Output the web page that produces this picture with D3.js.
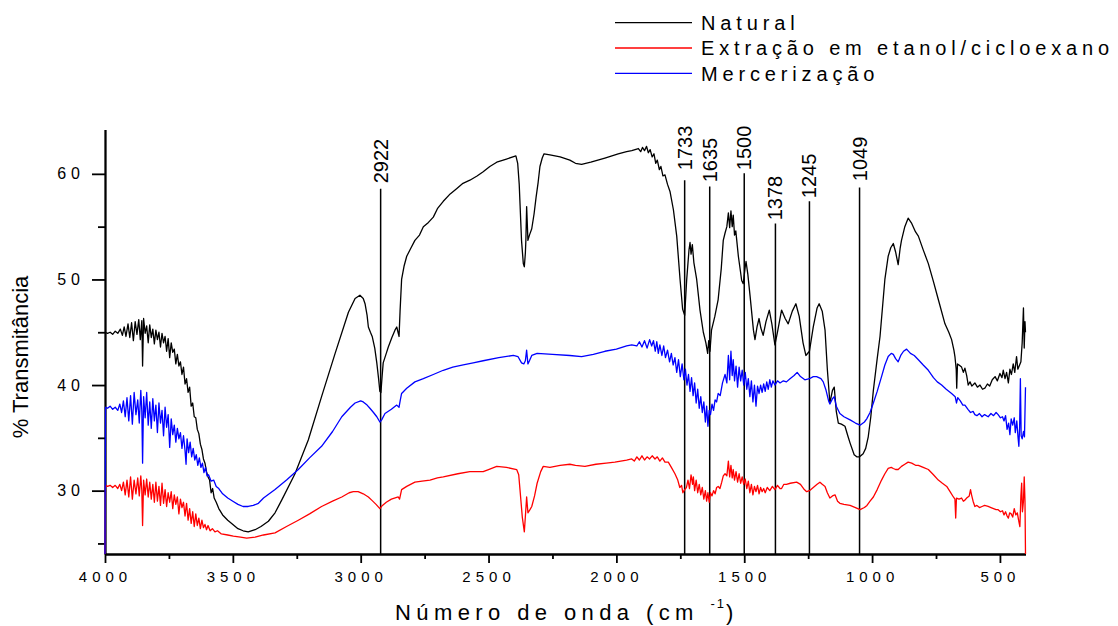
<!DOCTYPE html>
<html>
<head>
<meta charset="utf-8">
<script src="https://cdn.jsdelivr.net/npm/d3@7"></script>
<style>
  body { margin: 0; background: #fff; }
  svg { display: block; font-family: "Liberation Sans", Arial, sans-serif; }
</style>
</head>
<body>
<svg id="chart" width="1118" height="626"></svg>
<script>
// ---- data (wavenumber cm-1, % transmittance) ----
const natural = [
  [4000,45.0],[3990,44.9],[3980,45.0],[3970,44.8],[3960,45.1],[3950,44.9],[3940,45.3],[3932,44.7],[3925,45.5],[3918,44.6],
  [3910,45.8],[3903,44.5],[3896,45.9],[3889,44.2],[3882,46.0],[3875,44.8],[3868,46.2],[3862,44.3],[3856,46.1],[3853,41.8],
  [3849,46.3],[3843,44.9],[3837,45.6],[3831,44.0],[3825,45.7],[3819,44.5],[3813,45.3],[3807,43.9],[3801,45.2],[3795,44.3],
  [3789,45.0],[3783,43.6],[3777,44.9],[3771,44.0],[3765,44.6],[3759,43.2],[3753,44.4],[3747,42.6],[3741,44.0],[3735,43.1],
  [3729,43.4],[3723,42.0],[3717,42.9],[3711,41.8],[3705,42.2],[3699,41.0],[3693,41.7],[3687,40.1],[3681,40.6],[3675,39.3],
  [3669,39.8],[3663,38.0],[3657,38.3],[3651,37.0],[3645,36.9],[3639,35.8],[3633,35.4],[3627,34.4],[3621,33.9],[3615,33.0],
  [3609,32.6],[3603,31.8],[3597,31.3],[3591,31.0],[3585,29.8],[3579,30.2],[3573,29.3],[3565,28.9],[3555,28.3],[3540,27.7],
  [3520,27.2],[3500,26.8],[3480,26.4],[3460,26.2],[3440,26.1],[3413,26.3],[3390,26.6],[3361,27.1],[3335,27.9],[3309,29.1],
  [3257,31.6],[3205,34.8],[3153,38.9],[3100,43.0],[3048,46.9],[3022,48.2],[3003,48.5],[2990,48.2],[2983,47.7],[2975,46.6],
  [2970,45.5],[2962,45.0],[2955,44.6],[2945,43.5],[2937,42.1],[2930,40.6],[2925,39.4],[2921,39.3],[2916,40.9],[2912,42.1],
  [2900,43.0],[2892,43.6],[2878,44.5],[2866,45.2],[2859,45.5],[2854,45.0],[2850,44.6],[2846,47.0],[2840,50.0],[2830,51.3],
  [2820,52.2],[2805,52.9],[2788,53.7],[2770,54.2],[2755,55.0],[2735,55.4],[2716,55.9],[2700,56.7],[2677,57.4],[2650,58.1],
  [2625,58.6],[2600,59.1],[2573,59.4],[2545,59.8],[2521,60.2],[2495,60.7],[2468,61.1],[2430,61.4],[2393,61.7],[2386,61.0],
  [2380,59.0],[2371,53.7],[2364,51.5],[2360,51.2],[2356,52.5],[2354,53.7],[2351,56.9],[2348,55.0],[2346,53.7],[2340,54.2],
  [2331,54.8],[2322,56.2],[2314,57.8],[2306,59.2],[2299,60.7],[2290,61.5],[2283,61.9],[2260,61.8],[2220,61.6],[2182,61.3],
  [2160,61.0],[2136,60.9],[2100,61.1],[2045,61.5],[1993,61.9],[1960,62.1],[1940,62.2],[1914,62.4],[1905,62.1],[1898,62.5],
  [1890,62.2],[1882,62.6],[1875,62.0],[1868,62.3],[1860,61.6],[1853,61.9],[1846,61.0],[1840,61.3],[1832,60.4],[1826,60.7],
  [1818,59.8],[1810,59.9],[1800,59.0],[1790,58.3],[1777,56.6],[1764,54.1],[1751,50.0],[1741,47.2],[1733,46.6],[1725,50.0],
  [1716,52.8],[1712,53.5],[1708,52.4],[1703,53.3],[1697,51.6],[1686,50.0],[1673,47.1],[1660,45.0],[1650,44.0],[1643,43.0],
  [1639,44.2],[1634,43.2],[1628,45.2],[1615,46.5],[1602,48.1],[1590,51.0],[1582,53.7],[1575,54.4],[1568,55.0],[1562,56.3],
  [1557,54.9],[1552,56.5],[1547,55.0],[1543,56.1],[1538,54.2],[1533,54.6],[1523,52.2],[1515,50.8],[1510,49.9],[1504,49.6],
  [1496,51.2],[1493,51.7],[1486,50.5],[1477,48.4],[1464,45.2],[1458,44.3],[1450,45.5],[1442,46.3],[1435,45.4],[1426,44.7],
  [1415,46.0],[1402,47.1],[1392,45.8],[1380,43.8],[1370,45.0],[1354,47.1],[1340,46.3],[1328,45.8],[1312,47.0],[1298,47.7],
  [1285,46.5],[1270,44.0],[1259,42.8],[1245,43.2],[1230,45.5],[1215,47.3],[1207,47.7],[1195,47.0],[1184,45.2],[1175,41.5],
  [1165,38.3],[1155,39.5],[1148,39.8],[1140,37.5],[1132,36.4],[1120,36.3],[1106,36.1],[1095,35.2],[1086,34.5],[1070,33.4],
  [1060,33.2],[1049,33.2],[1035,33.5],[1025,34.0],[1015,35.1],[1005,37.0],[995,39.5],[980,42.5],[969,44.6],[950,50.0],
  [937,52.2],[927,53.0],[917,53.4],[908,52.6],[898,51.4],[890,53.0],[885,53.7],[872,55.0],[859,55.8],[845,55.3],
  [830,54.5],[819,54.1],[800,52.8],[780,51.5],[760,49.8],[741,48.1],[715,45.8],[700,45.0],[689,44.3],[680,43.3],
  [676,42.7],[671,41.5],[669,39.7],[666,42.0],[660,41.9],[650,41.7],[643,41.2],[637,41.6],[630,40.9],[624,40.0],
  [617,40.3],[610,39.9],[598,40.2],[588,39.8],[578,40.0],[568,39.6],[559,39.7],[549,40.1],[540,39.9],[530,40.5],
  [519,40.8],[510,40.4],[500,41.1],[492,40.7],[487,41.4],[480,40.6],[474,41.2],[467,40.2],[461,41.5],[455,41.0],
  [448,42.0],[442,41.2],[435,42.7],[430,41.5],[423,41.9],[418,42.2],[413,44.0],[408,47.3],[405,43.5],[402,46.0],[400,45.0]
];

const extracao = [
  [4000,24.0],[3998,30.5],[3990,30.4],[3980,30.5],[3970,30.3],[3960,30.5],[3950,30.2],[3942,30.6],[3935,30.0],[3928,30.8],
  [3921,29.6],[3914,31.0],[3907,29.4],[3900,31.3],[3893,29.2],[3886,31.0],[3879,29.7],[3872,31.2],[3866,29.5],[3860,31.4],
  [3856,30.0],[3853,26.7],[3849,31.0],[3843,29.6],[3837,31.1],[3831,29.4],[3825,30.8],[3819,29.2],[3813,30.6],[3807,28.9],
  [3801,30.8],[3795,29.0],[3789,30.4],[3783,28.6],[3777,30.7],[3771,28.8],[3765,30.1],[3759,28.5],[3753,29.8],[3747,28.9],
  [3741,29.9],[3735,28.3],[3729,29.6],[3723,28.7],[3717,29.4],[3711,27.8],[3705,29.2],[3699,28.4],[3693,28.9],[3687,27.6],
  [3681,28.8],[3675,27.2],[3669,28.3],[3663,26.9],[3657,28.0],[3651,26.6],[3645,27.8],[3639,26.7],[3633,27.4],[3627,26.4],
  [3621,27.2],[3615,26.5],[3609,26.8],[3603,26.3],[3597,26.7],[3589,26.2],[3580,26.4],[3570,26.1],[3560,26.2],[3545,25.9],
  [3520,25.8],[3498,25.7],[3470,25.6],[3446,25.5],[3413,25.6],[3380,25.8],[3335,26.0],[3290,26.6],[3244,27.2],[3200,27.8],
  [3153,28.5],[3110,29.0],[3074,29.4],[3045,29.8],[3029,29.9],[3010,29.9],[2990,29.7],[2970,29.4],[2957,29.1],[2940,28.7],
  [2925,28.3],[2915,28.6],[2900,28.9],[2880,29.2],[2853,29.4],[2848,29.2],[2840,30.1],[2820,30.4],[2788,30.8],[2760,30.9],
  [2729,31.0],[2700,31.2],[2677,31.3],[2620,31.6],[2573,31.8],[2521,31.8],[2500,32.0],[2468,32.3],[2430,32.2],[2390,32.0],
  [2382,31.5],[2377,30.1],[2368,27.5],[2360,26.1],[2355,27.9],[2351,29.4],[2346,27.9],[2338,28.2],[2331,28.5],[2320,29.5],
  [2310,30.7],[2296,31.8],[2286,32.3],[2260,32.2],[2220,32.4],[2182,32.5],[2160,32.4],[2123,32.3],[2080,32.5],[2040,32.6],
  [2006,32.7],[1960,32.9],[1940,33.0],[1930,32.8],[1920,33.2],[1910,32.9],[1900,33.3],[1890,32.9],[1880,33.2],[1870,33.0],
  [1860,33.3],[1849,33.0],[1840,33.2],[1830,32.8],[1820,33.1],[1810,32.7],[1797,32.7],[1785,32.2],[1771,31.6],[1760,31.0],
  [1752,30.3],[1745,30.5],[1740,29.8],[1733,30.1],[1726,30.3],[1720,31.0],[1714,30.2],[1708,31.5],[1702,30.6],[1699,31.3],
  [1694,30.0],[1688,31.0],[1682,29.8],[1676,30.6],[1670,29.6],[1664,30.3],[1658,29.2],[1652,30.0],[1647,29.0],[1642,29.8],
  [1637,28.9],[1632,29.8],[1626,29.5],[1620,30.0],[1614,29.7],[1608,30.3],[1602,30.4],[1595,30.2],[1588,30.8],[1582,31.4],
  [1575,31.6],[1568,31.4],[1562,32.8],[1557,31.3],[1552,32.4],[1547,31.2],[1543,32.0],[1538,31.0],[1532,31.8],[1526,30.8],
  [1520,31.6],[1514,30.7],[1508,31.3],[1502,30.6],[1496,31.1],[1490,30.2],[1484,30.9],[1478,29.8],[1472,30.6],[1466,29.6],
  [1460,30.4],[1454,29.9],[1448,30.5],[1442,29.7],[1436,30.3],[1430,29.9],[1424,30.2],[1418,29.8],[1410,30.3],[1400,30.0],
  [1390,30.4],[1380,30.1],[1370,30.5],[1360,30.2],[1354,30.2],[1345,30.6],[1335,30.6],[1320,30.7],[1295,30.8],[1280,30.6],
  [1265,30.1],[1256,29.9],[1245,30.0],[1230,30.3],[1215,30.6],[1204,30.8],[1195,30.6],[1184,30.4],[1175,29.8],[1165,29.3],
  [1155,29.5],[1145,29.6],[1135,29.0],[1126,28.8],[1110,28.7],[1086,28.6],[1065,28.4],[1047,28.2],[1030,28.4],[1020,28.6],
  [1008,29.0],[995,29.4],[980,30.1],[963,31.0],[950,31.6],[937,32.1],[925,32.2],[917,32.1],[908,32.0],[898,32.0],
  [885,32.3],[872,32.5],[859,32.7],[845,32.6],[830,32.4],[819,32.4],[800,32.2],[780,32.0],[760,31.5],[741,31.0],
  [725,30.7],[708,30.4],[695,29.9],[682,29.4],[676,29.2],[673,27.4],[670,29.3],[660,29.2],[650,29.3],[643,29.0],
  [637,29.1],[630,29.3],[620,29.5],[615,30.1],[611,29.6],[605,29.0],[598,28.5],[590,28.6],[580,28.4],[570,28.5],
  [560,28.6],[546,28.5],[535,28.4],[525,28.3],[515,28.2],[507,28.2],[498,28.0],[490,28.1],[484,27.7],[478,28.0],
  [472,27.6],[467,27.4],[462,27.9],[456,27.8],[450,27.5],[444,28.3],[438,27.7],[432,27.9],[427,27.2],[422,26.6],
  [418,29.5],[415,30.7],[412,28.0],[408,29.0],[405,31.3],[402,29.0],[400,24.0]
];

const mercerizacao = [
  [4000,24.0],[3998,37.9],[3990,37.8],[3980,38.0],[3970,37.7],[3960,37.9],[3950,37.6],[3942,38.2],[3935,37.4],[3928,38.5],
  [3921,37.0],[3914,38.8],[3907,36.6],[3900,39.0],[3893,36.3],[3886,39.3],[3879,37.2],[3872,38.6],[3866,36.4],[3860,39.5],
  [3856,37.5],[3853,32.6],[3849,38.9],[3843,36.9],[3837,39.3],[3831,36.2],[3825,38.4],[3819,35.9],[3813,38.7],[3807,36.6],
  [3801,38.1],[3795,35.5],[3789,38.3],[3783,36.4],[3777,37.6],[3771,35.2],[3765,37.9],[3759,36.0],[3753,37.2],[3747,34.1],
  [3741,36.8],[3735,35.3],[3729,36.2],[3723,34.6],[3717,35.9],[3711,34.9],[3705,35.5],[3699,34.0],[3693,35.2],[3687,33.8],
  [3683,32.5],[3679,34.9],[3673,33.6],[3667,34.6],[3661,33.2],[3655,34.0],[3649,32.9],[3643,33.4],[3637,32.4],[3631,33.1],
  [3625,32.2],[3619,32.6],[3613,31.7],[3607,32.2],[3601,31.4],[3595,31.5],[3585,30.9],[3575,31.0],[3565,30.4],[3555,30.2],
  [3540,29.7],[3520,29.3],[3500,29.0],[3480,28.7],[3460,28.5],[3440,28.5],[3420,28.6],[3400,28.8],[3380,29.3],[3335,30.1],
  [3290,31.0],[3244,32.0],[3200,33.1],[3153,34.2],[3110,35.6],[3074,37.0],[3040,37.9],[3022,38.3],[3000,38.5],[2990,38.4],
  [2975,38.1],[2964,37.8],[2950,37.4],[2937,37.0],[2925,36.5],[2918,36.7],[2905,37.3],[2880,37.7],[2859,38.1],[2850,37.9],
  [2845,38.6],[2840,39.2],[2820,39.7],[2788,40.3],[2755,40.6],[2716,41.0],[2677,41.4],[2640,41.7],[2599,41.9],[2560,42.1],
  [2521,42.3],[2460,42.6],[2403,42.8],[2385,42.7],[2371,42.1],[2362,42.0],[2356,42.3],[2351,43.3],[2346,42.0],[2340,42.3],
  [2331,42.8],[2310,43.0],[2250,42.9],[2182,42.8],[2136,42.7],[2090,42.9],[2045,43.2],[2000,43.4],[1960,43.7],[1940,43.8],
  [1920,43.7],[1910,44.1],[1900,43.6],[1890,44.2],[1880,43.5],[1870,44.3],[1862,43.7],[1855,44.2],[1848,43.2],[1842,44.1],
  [1836,43.0],[1830,43.8],[1822,42.8],[1815,43.7],[1808,42.6],[1800,43.3],[1792,42.2],[1785,43.0],[1778,41.9],[1771,42.6],
  [1764,41.2],[1757,42.4],[1750,40.8],[1743,42.0],[1736,40.5],[1730,41.5],[1724,40.0],[1718,41.0],[1712,39.4],[1706,40.7],
  [1700,39.0],[1694,40.2],[1688,38.3],[1682,39.6],[1676,37.8],[1670,38.9],[1664,37.4],[1658,38.4],[1652,36.5],[1647,38.0],
  [1642,36.1],[1637,37.6],[1632,37.2],[1626,38.2],[1620,37.6],[1614,38.6],[1608,38.4],[1602,39.2],[1594,39.0],[1585,40.2],
  [1575,41.0],[1568,40.2],[1562,42.8],[1557,40.5],[1552,43.2],[1547,40.9],[1543,42.4],[1538,40.4],[1532,41.8],[1526,39.8],
  [1520,41.7],[1514,40.4],[1508,41.4],[1502,40.0],[1496,41.2],[1490,39.6],[1484,40.6],[1478,38.9],[1472,40.4],[1466,38.4],
  [1460,40.0],[1454,38.0],[1448,39.9],[1442,39.2],[1436,40.0],[1430,39.3],[1424,40.1],[1418,39.4],[1412,40.3],[1406,39.6],
  [1400,40.5],[1394,39.8],[1388,40.4],[1380,40.0],[1370,40.4],[1360,40.2],[1347,40.4],[1335,40.3],[1321,40.6],[1305,40.9],
  [1293,41.2],[1280,40.8],[1263,40.5],[1245,40.6],[1230,40.8],[1217,40.8],[1200,40.6],[1191,40.3],[1180,39.5],[1170,38.5],
  [1165,38.2],[1155,38.7],[1148,38.9],[1140,38.0],[1126,37.3],[1110,37.0],[1086,36.7],[1065,36.4],[1047,36.2],[1030,36.5],
  [1021,36.8],[1008,37.4],[995,38.3],[980,39.4],[963,40.8],[950,41.9],[937,42.7],[925,43.0],[917,42.9],[908,42.5],
  [898,42.2],[888,42.8],[877,43.2],[865,43.4],[850,43.0],[835,42.8],[819,42.4],[800,41.9],[780,41.4],[760,40.7],
  [745,40.3],[728,40.0],[710,39.6],[689,39.2],[675,38.9],[670,38.3],[665,38.8],[655,38.5],[645,38.1],[637,38.1],
  [625,37.7],[615,37.4],[605,37.5],[598,37.2],[590,37.1],[580,37.3],[570,37.0],[560,37.2],[546,37.0],[535,37.3],
  [525,37.1],[515,37.4],[507,37.2],[498,36.9],[490,37.0],[484,36.6],[478,37.1],[472,35.8],[466,36.4],[461,35.3],
  [456,36.8],[450,36.2],[444,36.9],[440,35.5],[434,36.6],[429,35.0],[426,34.2],[423,36.0],[420,40.6],[417,35.2],
  [413,34.9],[408,35.6],[404,35.1],[400,39.8]
];

const seriesNames = ["Natural", "Extração em etanol/cicloexano", "Mercerização"];
const seriesColors = ["#000000", "#ff0000", "#0000ff"];

// marked bands: wavenumber, top of the line and start of its label (% T)
const peaks = [2922, 1733, 1635, 1500, 1378, 1245, 1049];
const peakTop = [58.6, 59.4, 58.8, 60.05, 55.3, 57.4, 58.7];
const peakLabelAt = [59.1, 60.35, 59.2, 60.35, 55.6, 57.7, 59.3];

const xTicks = [4000, 3500, 3000, 2500, 2000, 1500, 1000, 500];
const xMinor = [3750, 3250, 2750, 2250, 1750, 1250, 750];
const yTicks = [30, 40, 50, 60];
const yMinor = [25, 35, 45, 55];

//////////// SCALES ////////////
const svg = d3.select("#chart");
const x = d3.scaleLinear().domain([4000, 400]).range([105, 1025.5]);
const y = d3.scaleLinear().domain([24, 64.2]).range([554, 129.5]);

//////////// AXES ////////////
function styleAxis(g, size) {
  g.attr("font-family", null).attr("font-size", null);
  g.selectAll("line").attr("stroke", "#000").attr("stroke-width", 1.8);
  g.select(".domain").attr("stroke", "#000").attr("stroke-width", 1.8);
  g.selectAll("text")
    .attr("fill", "#000")
    .attr("font-size", size || 15)
    .attr("letter-spacing", 5);
}

svg.append("g")
  .attr("transform", `translate(0,${y(24)})`)
  .call(d3.axisBottom(x).tickValues(xMinor).tickSize(5).tickSizeOuter(0).tickFormat(""))
  .call(styleAxis);

svg.append("g")
  .attr("transform", `translate(0,${y(24)})`)
  .call(d3.axisBottom(x).tickValues(xTicks).tickSize(9).tickPadding(8).tickSizeOuter(0).tickFormat(d3.format("d")))
  .call(styleAxis);

svg.append("g")
  .attr("transform", `translate(${x(4000)},0)`)
  .call(d3.axisLeft(y).tickValues(yMinor).tickSize(7).tickSizeOuter(0).tickFormat(""))
  .call(styleAxis);

svg.append("g")
  .attr("transform", `translate(${x(4000)},0)`)
  .call(d3.axisLeft(y).tickValues(yTicks).tickSize(13).tickPadding(7).tickSizeOuter(0))
  .call(styleAxis, 16);

// axis titles
svg.append("text")
  .attr("transform", `translate(28,357) rotate(-90)`)
  .attr("text-anchor", "middle")
  .attr("font-size", 22)
  .text("% Transmitância");

const xTitle = svg.append("text")
  .attr("x", 395)
  .attr("y", 620)
  .attr("font-size", 22)
  .attr("letter-spacing", 5.4);
xTitle.append("tspan").text("Número de onda (cm ");
xTitle.append("tspan").attr("font-size", 13).attr("dy", -12).attr("letter-spacing", 2).text("-1");
xTitle.append("tspan").attr("dy", 12).text(")");

//////////// PEAK LINES ////////////
peaks.forEach((p, i) => {
  svg.append("line")
    .attr("x1", x(p)).attr("x2", x(p))
    .attr("y1", y(peakTop[i])).attr("y2", y(24))
    .attr("stroke", "#000")
    .attr("stroke-width", 1.5);
  svg.append("text")
    .attr("transform", `translate(${x(p) + 7},${y(peakLabelAt[i])}) rotate(-90)`)
    .attr("font-size", 20)
    .text(p);
});

//////////// SPECTRA ////////////
const line = d3.line()
  .x(d => x(d[0]))
  .y(d => y(d[1]));

[natural, extracao, mercerizacao].forEach((s, i) => {
  svg.append("path")
    .datum(s)
    .attr("fill", "none")
    .attr("stroke", seriesColors[i])
    .attr("stroke-width", 1.3)
    .attr("stroke-linejoin", "round")
    .attr("d", line);
});

//////////// LEGEND ////////////
const legend = svg.append("g");
seriesNames.forEach((name, i) => {
  const ly = 22.7 + i * 25.3;
  legend.append("line")
    .attr("x1", 615).attr("x2", 692)
    .attr("y1", ly).attr("y2", ly)
    .attr("stroke", seriesColors[i])
    .attr("stroke-width", 1.3);
  legend.append("text")
    .attr("x", 701)
    .attr("y", ly + 7.3)
    .attr("font-size", 20)
    .attr("letter-spacing", 4.85)
    .text(name);
});
</script>
</body>
</html>
